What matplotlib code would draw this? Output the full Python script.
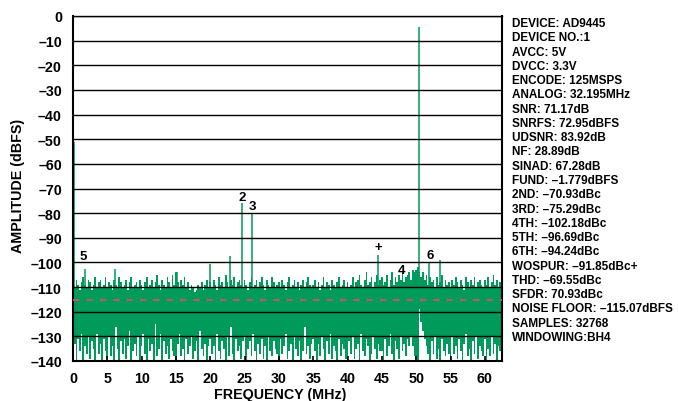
import numpy as np
import matplotlib
matplotlib.use('Agg')
import matplotlib.pyplot as plt

plt.rcParams['font.family'] = ['Liberation Sans', 'DejaVu Sans']
plt.rcParams['font.weight'] = 'bold'

GREEN = '#009A5B'
RED = '#E0505C'

# noise floor minima per 0.25 MHz bin (0 .. 62.5 MHz)
floor_bottoms = [
    -138, -133, -140, -131, -136, -129, -140, -134, -137, -130, -139, -132, -135, -140, -129, -137, -133, -140, -131, -136,
    -139, -130, -138, -134, -140, -126, -135, -140, -132, -137, -131, -139, -134, -128, -140, -136, -133, -138, -130, -140,
    -134, -129, -137, -140, -131, -136, -133, -140, -125, -138, -135, -129, -140, -132, -137, -134, -139, -131, -136, -138,
    -140, -133, -129, -138, -135, -140, -131, -137, -134, -130, -139, -136, -132, -140, -128, -135, -138, -133, -140, -134,
    -131, -137, -134, -140, -129, -136, -139, -132, -135, -140, -130, -138, -126, -137, -140, -131, -136, -134, -139, -132,
    -130, -140, -135, -132, -138, -129, -136, -140, -133, -137, -131, -139, -134, -140, -130, -136, -138, -132, -135, -137,
    -140, -131, -137, -134, -129, -139, -136, -133, -140, -130, -135, -138, -132, -140, -136, -126, -137, -134, -139, -133,
    -131, -136, -140, -133, -138, -130, -135, -140, -132, -137, -129, -139, -134, -136, -140, -131, -138, -133, -135, -139,
    -140, -132, -137, -130, -139, -135, -133, -140, -129, -136, -138, -131, -134, -140, -137, -130, -135, -139, -133, -136,
    -136, -140, -131, -138, -134, -129, -137, -140, -132, -135, -139, -130, -136, -133, -138, -131, -134, -130, -134, -138,
    -139, -140, -119, -124, -128, -131, -134, -137, -140, -132, -137, -130, -139, -135, -140, -131, -136, -138, -133, -137,
    -140, -130, -137, -134, -139, -131, -136, -140, -133, -129, -138, -135, -140, -132, -137, -130, -139, -134, -136, -138,
    -131, -140, -135, -138, -130, -137, -133, -140, -134, -136, -139,
]

# noise floor maxima per 0.25 MHz bin (0 .. 62.5 MHz)
floor_tops = [
    -108, -110, -107, -109, -111, -108, -106, -109, -110, -107, -108, -111, -109, -106, -110, -108, -107, -110, -109, -106,
    -110, -108, -109, -111, -107, -109, -110, -106, -108, -110, -109, -107, -111, -108, -106, -110, -109, -108, -110, -107,
    -109, -111, -108, -106, -110, -109, -107, -110, -108, -105, -109, -111, -107, -109, -110, -106, -108, -110, -105, -109,
    -104, -108, -110, -107, -109, -106, -110, -108, -111, -109, -110, -112, -111, -109, -110, -108, -111, -109, -107, -110,
    -108, -110, -107, -109, -111, -106, -109, -108, -110, -105, -108, -110, -107, -109, -106, -110, -108, -107, -109, -110,
    -107, -109, -111, -108, -106, -110, -109, -107, -110, -108, -106, -109, -111, -107, -109, -110, -106, -108, -110, -109,
    -108, -110, -107, -109, -111, -108, -106, -110, -109, -107, -110, -108, -111, -109, -107, -110, -108, -106, -109, -110,
    -109, -107, -110, -108, -111, -109, -106, -110, -108, -109, -111, -107, -109, -110, -108, -106, -110, -109, -107, -110,
    -108, -110, -109, -106, -110, -108, -107, -105, -109, -110, -107, -104, -109, -108, -106, -110, -108, -105, -109, -107,
    -106, -109, -108, -105, -110, -107, -104, -109, -106, -108, -105, -107, -104, -108, -106, -105, -104, -107, -103, -104,
    -103, -102, -104, -106, -104, -107, -105, -109, -106, -108, -107, -110, -106, -109, -108, -105, -110, -107, -109, -108,
    -110, -107, -109, -106, -108, -110, -107, -109, -111, -106, -108, -110, -107, -109, -106, -110, -108, -107, -109, -110,
    -107, -109, -106, -110, -108, -105, -109, -107, -110, -108, -106,
]

# spurs and fundamental
spur_freq = [0.2, 1.7, 6.1, 15.1, 20.0, 22.9, 24.6, 26.1, 44.5, 50.4, 51.9, 53.5]
spur_amp = [-51.0, -102.5, -102.5, -104.0, -100.5, -97.5, -76.0, -80.0, -96.8, -4.5, -100.0, -99.0]

# harmonic markers
mark_text = ['5', '2', '3', '+', '4', '6']
mark_freq = [1.45, 24.6, 26.1, 44.5, 47.9, 52.0]
mark_amp = [-97.3, -73.3, -77.2, -93.6, -103.0, -96.9]

noise_floor = -115.07

x_ticks = [0, 5, 10, 15, 20, 25, 30, 35, 40, 45, 50, 55, 60]
y_ticks = [0, -10, -20, -30, -40, -50, -60, -70, -80, -90, -100, -110, -120, -130, -140]
y_tick_labels = ['0', '–10', '–20', '–30', '–40', '–50', '–60', '–70', '–80', '–90',
                 '–100', '–110', '–120', '–130', '–140']

info_lines = [
    'DEVICE: AD9445', 'DEVICE NO.:1', 'AVCC: 5V', 'DVCC: 3.3V', 'ENCODE: 125MSPS',
    'ANALOG: 32.195MHz', 'SNR: 71.17dB', 'SNRFS: 72.95dBFS', 'UDSNR: 83.92dB',
    'NF: 28.89dB', 'SINAD: 67.28dB', 'FUND: –1.779dBFS', '2ND: –70.93dBc',
    '3RD: –75.29dBc', '4TH: –102.18dBc', '5TH: –96.69dBc', '6TH: –94.24dBc',
    'WOSPUR: –91.85dBc+', 'THD: –69.55dBc', 'SFDR: 70.93dBc',
    'NOISE FLOOR: –115.07dBFS', 'SAMPLES: 32768', 'WINDOWING:BH4',
]

W, H = 678, 402
fig = plt.figure(figsize=(W / 100, H / 100), dpi=100)
ax = fig.add_axes([73 / W, 40 / H, 429 / W, 345 / H])

f_lo = np.linspace(0, 62.5, len(floor_bottoms))
ax.fill_between(f_lo, floor_bottoms, floor_tops, step='mid', color=GREEN, lw=0, zorder=1)
ax.vlines(spur_freq, -112, spur_amp, color=GREEN, lw=1.1, zorder=1.5)

ax.axhline(noise_floor, color=RED, lw=1.2, ls=(0, (4, 4)), zorder=3)

for t, fx, ay in zip(mark_text, mark_freq, mark_amp):
    ax.text(fx, ay, t, ha='center', va='center', fontsize=9.5, fontweight='bold', zorder=4)

ax.set_xlim(0, 62.5)
ax.set_ylim(-140, 0)
ax.set_xticks(x_ticks)
ax.set_xticklabels([str(v) for v in x_ticks])
ax.set_yticks(y_ticks)
ax.set_yticklabels(y_tick_labels)
ax.set_axisbelow(False)
ax.yaxis.grid(True, color='black', lw=1.0)
ax.tick_params(axis='x', direction='in', length=3.5, width=1.2, pad=7, labelsize=10.3)
ax.tick_params(axis='y', length=0, pad=8, labelsize=10.3)
for lab in ax.get_xticklabels() + ax.get_yticklabels():
    lab.set_fontweight('bold')
for s in ['left', 'bottom', 'right']:
    ax.spines[s].set_linewidth(1.5)
ax.spines['top'].set_linewidth(1.0)

fig.text(280 / W, 1 - 395 / H, 'FREQUENCY (MHz)', ha='center', va='center',
         fontsize=10.3, fontweight='bold')
fig.text(18 / W, 1 - 186 / H, 'AMPLITUDE (dBFS)', ha='center', va='center',
         rotation=90, fontsize=10.3, fontweight='bold')

y0 = 24
dy = (338 - 24) / (len(info_lines) - 1)
for i, line in enumerate(info_lines):
    fig.text(512 / W, 1 - (y0 + i * dy) / H, line, ha='left', va='center',
             fontsize=8.5, fontweight='bold')

fig.savefig('out.png', dpi=100)
